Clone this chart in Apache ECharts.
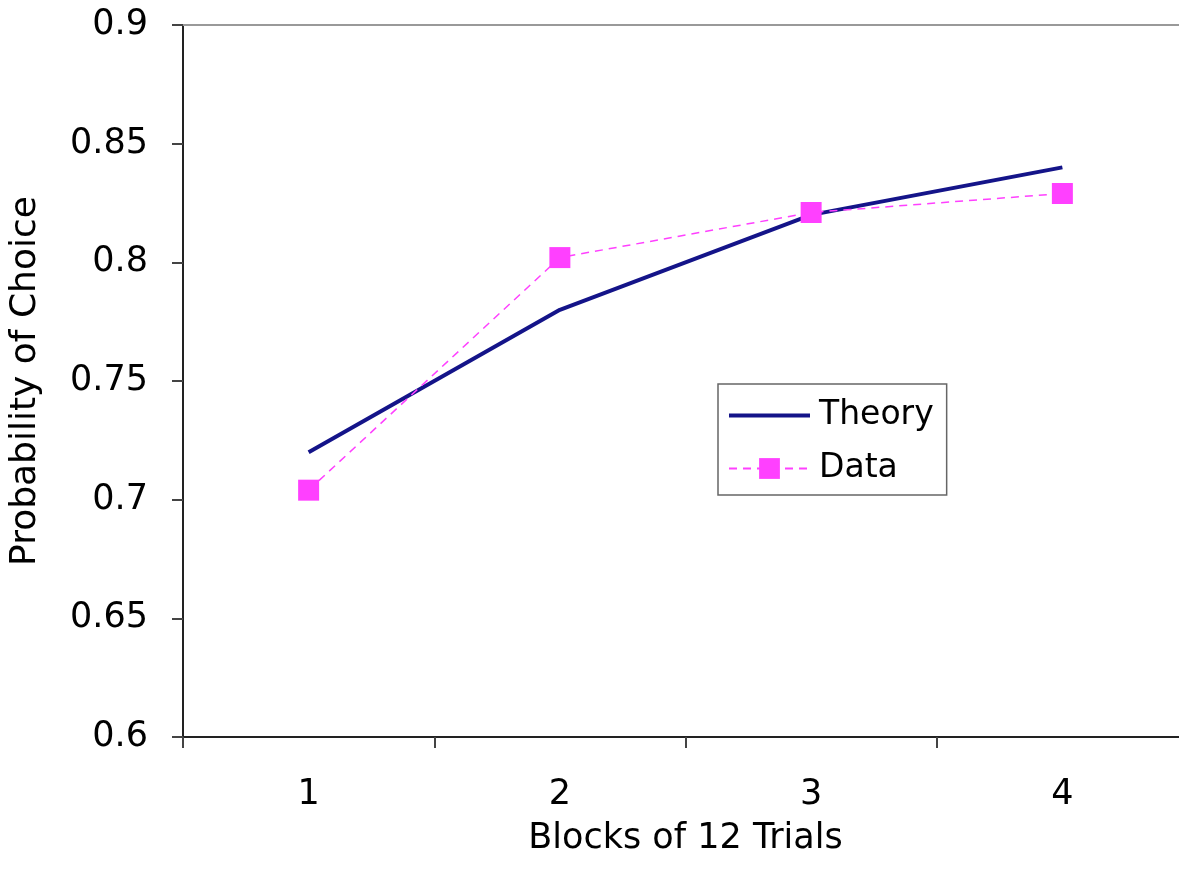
<!DOCTYPE html>
<html><head><meta charset="utf-8">
<script src="https://cdn.jsdelivr.net/npm/echarts@6/dist/echarts.min.js"></script>
<style>html,body{margin:0;padding:0;background:#fff}#c{width:1179px;height:871px}</style>
</head><body><div id="c"></div>
<script>
const categories = ['1', '2', '3', '4'];
const theory = [0.72, 0.78, 0.82, 0.84];
const dataVals = [0.704, 0.802, 0.821, 0.829];
const yTicks = { min: 0.6, max: 0.9, interval: 0.05 };

const font = '"DejaVu Sans", Verdana, sans-serif';
const chart = echarts.init(document.getElementById('c'), null, { renderer: 'canvas' });
chart.setOption({
  animation: false,
  backgroundColor: '#fff',
  textStyle: { fontFamily: font },
  grid: { left: 183, right: -9, top: 25, bottom: 134, containLabel: false, outerBoundsMode: 'none' },
  legend: {
    orient: 'vertical', left: 718, top: 384,
    backgroundColor: '#fff',
    borderColor: '#666', borderWidth: 1.5, borderRadius: 0,
    padding: [15, 13, 10, 10], itemGap: 20,
    itemWidth: 81, itemHeight: 26,
    textStyle: { fontSize: 33, lineHeight: 26, color: '#000', fontFamily: font, padding: [0, 0, 0, 4] },
    data: [
      { name: 'Theory', icon: 'path://M0,0H81V4H0Z' },
      { name: 'Data' }
    ]
  },
  xAxis: [{
    type: 'category', data: categories, boundaryGap: true,
    axisLine: { lineStyle: { color: '#222', width: 2 } },
    axisTick: { show: true, length: 11, lineStyle: { color: '#444', width: 2 } },
    axisLabel: { fontSize: 35, color: '#000', margin: 40, fontFamily: font },
    name: 'Blocks of 12 Trials', nameLocation: 'middle', nameGap: 84,
    nameTextStyle: { fontSize: 35, color: '#000', fontFamily: font },
    splitLine: { show: false }
  }, {
    type: 'category', data: categories, position: 'top',
    axisLine: { show: true, lineStyle: { color: '#999', width: 2 } },
    axisTick: { show: false }, axisLabel: { show: false }
  }],
  yAxis: {
    type: 'value', min: yTicks.min, max: yTicks.max, interval: yTicks.interval,
    axisLine: { show: true, lineStyle: { color: '#222', width: 2 } },
    axisTick: { show: true, length: 11, lineStyle: { color: '#444', width: 2 } },
    axisLabel: { fontSize: 35, color: '#000', margin: 35, fontFamily: font,
      formatter: v => String(parseFloat(v.toFixed(2))) },
    splitLine: { show: false },
    name: 'Probability of Choice', nameLocation: 'middle', nameGap: 139, nameRotate: 90,
    nameTextStyle: { fontSize: 36, color: '#000', fontFamily: font }
  },
  series: [{
    name: 'Theory', type: 'line', data: theory, symbol: 'none',
    lineStyle: { color: '#141489', width: 4 }, itemStyle: { color: '#141489' }, z: 3
  }, {
    name: 'Data', type: 'line', data: dataVals, symbol: 'rect', symbolSize: 21,
    lineStyle: { color: '#ff40ff', width: 1.5, type: [8, 6] },
    itemStyle: { color: '#ff40ff' }, z: 4
  }]
});
</script></body></html>
